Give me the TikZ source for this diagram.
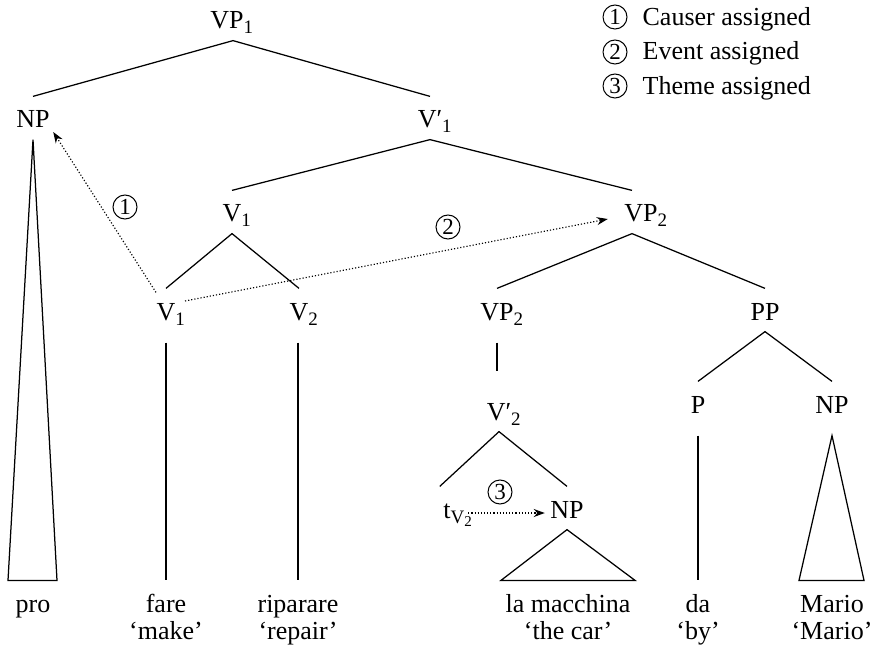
\documentclass[tikz,border=0pt]{standalone}
\usepackage{fontspec}
\setmainfont{Liberation Serif}
\usetikzlibrary{arrows.meta}
% subscripts sit to the right of the category label without widening its box
\newcommand\lo[1]{\rlap{\raisebox{-5pt}{\fontsize{19}{19}\selectfont #1}}}
\newcommand\trsub{\rlap{\raisebox{-5pt}{\fontsize{19}{19}\selectfont V\raisebox{-3pt}{\fontsize{15}{15}\selectfont 2}}}}
\begin{document}
\begin{tikzpicture}[x=1pt,y=-1pt,line width=1.25pt,
  tn/.style={font=\fontsize{26}{30}\selectfont,text height=26pt,text depth=6pt,
    inner xsep=3pt,inner ysep=5pt,anchor=base},
  gl/.style={font=\fontsize{26}{30}\selectfont,inner sep=0pt,anchor=base},
  lg/.style={font=\fontsize{26}{30}\selectfont,inner sep=0pt,anchor=base west},
  cnum/.style={circle,draw,line width=1pt,inner sep=0pt,minimum size=24pt,
    font=\fontsize{23}{23}\selectfont},
  unary/.style={shorten <=11pt},
  link/.style={dotted,line width=1.15pt,-{Stealth[length=11pt,width=8pt]}},
]
\useasboundingbox (0,0) rectangle (877,652);

% category nodes
\node[tn] (vp1)  at (227,29)  {VP\lo{1}};
\node[tn] (np1)  at (33,128)  {NP};
\node[tn] (vb1)  at (430,128) {V′\lo{1}};
\node[tn] (v1u)  at (232,222) {V\lo{1}};
\node[tn] (vp2u) at (641,222) {VP\lo{2}};
\node[tn] (v1l)  at (166,320) {V\lo{1}};
\node[tn] (v2)   at (299,320) {V\lo{2}};
\node[tn] (vp2l) at (497,320) {VP\lo{2}};
\node[tn] (pp)   at (765,320) {PP};
\node[tn] (vb2)  at (499,420) {V′\lo{2}};
\node[tn] (p)    at (698,413) {P};
\node[tn] (np3)  at (832,413) {NP};
\node[tn] (tr)   at (447,518) {t\trsub};
\node[tn] (np2)  at (567,518) {NP};

% leaves
\node[tn] (pro) at (33,612)  {pro};
\node[tn] (fare) at (166,612) {fare};
\node[tn] (rip) at (298,612) {riparare};
\node[tn] (lm)  at (568,612) {la macchina};
\node[tn] (da)  at (698,612) {da};
\node[tn] (mar) at (832,612) {Mario};

% glosses
\node[gl] (gfare) at (166,639) {`make'};
\node[gl] (grip)  at (298,639) {`repair'};
\node[gl] (glm)   at (568,639) {`the car'};
\node[gl] (gda)   at (698,639) {`by'};
\node[gl] (gmar)  at (832,639) {`Mario'};

% branches
\draw (np1.north) -- ([xshift=6pt]vp1.south) -- (vb1.north);
\draw (v1u.north) -- (vb1.south) -- ([xshift=-9pt]vp2u.north);
\draw (v1l.north) -- (v1u.south) -- (v2.north);
\draw (vp2l.north) -- ([xshift=-9pt]vp2u.south) -- (pp.north);
\draw (p.north) -- (pp.south) -- (np3.north);
\draw (tr.north west) -- (vb2.south) -- (np2.north);

% unary lines
\draw[unary] (v1l.south -| fare.north) -- (fare.north);
\draw[unary] (v2.south -| rip.north) -- (rip.north);
\draw[unary] (p.south) -- (da.north);
\draw[unary,shorten >=17pt] (vp2l.south) -- (vp2l.south |- vb2.north);

% triangles over phrases
\draw (np1.south) -- ([xshift=-25pt]pro.north) -- ([xshift=24pt]pro.north) -- cycle;
\draw (np2.south) -- ([xshift=-67pt]lm.north) -- ([xshift=67pt]lm.north) -- cycle;
\draw ([yshift=-11pt]np3.south) -- ([xshift=-33pt]mar.north) -- ([xshift=32pt]mar.north) -- cycle;

% role assignment
\draw[link] ([xshift=3pt,yshift=-4pt]v1l.north west) -- ([yshift=-14pt]np1.east);
\draw[link] ([xshift=6pt,yshift=9pt]v1l.east) -- ([xshift=-13pt,yshift=-7pt]vp2u.west);
\draw[link] ([xshift=14pt,yshift=-5pt]tr.east) -- ([xshift=-2pt,yshift=-5pt]np2.west);

\node[cnum] (c1) at (125,207) {1};
\node[cnum] (c2) at (448,227) {2};
\node[cnum] (c3) at (500,492) {3};

% legend
\node[cnum] (k1) at (615,17) {1};
\node[cnum] (k2) at (615,52) {2};
\node[cnum] (k3) at (615,86) {3};
\node[lg] (l1) at (642,26) {Causer assigned};
\node[lg] (l2) at (642,60) {Event assigned};
\node[lg] (l3) at (642,95) {Theme assigned};
\end{tikzpicture}
\end{document}
